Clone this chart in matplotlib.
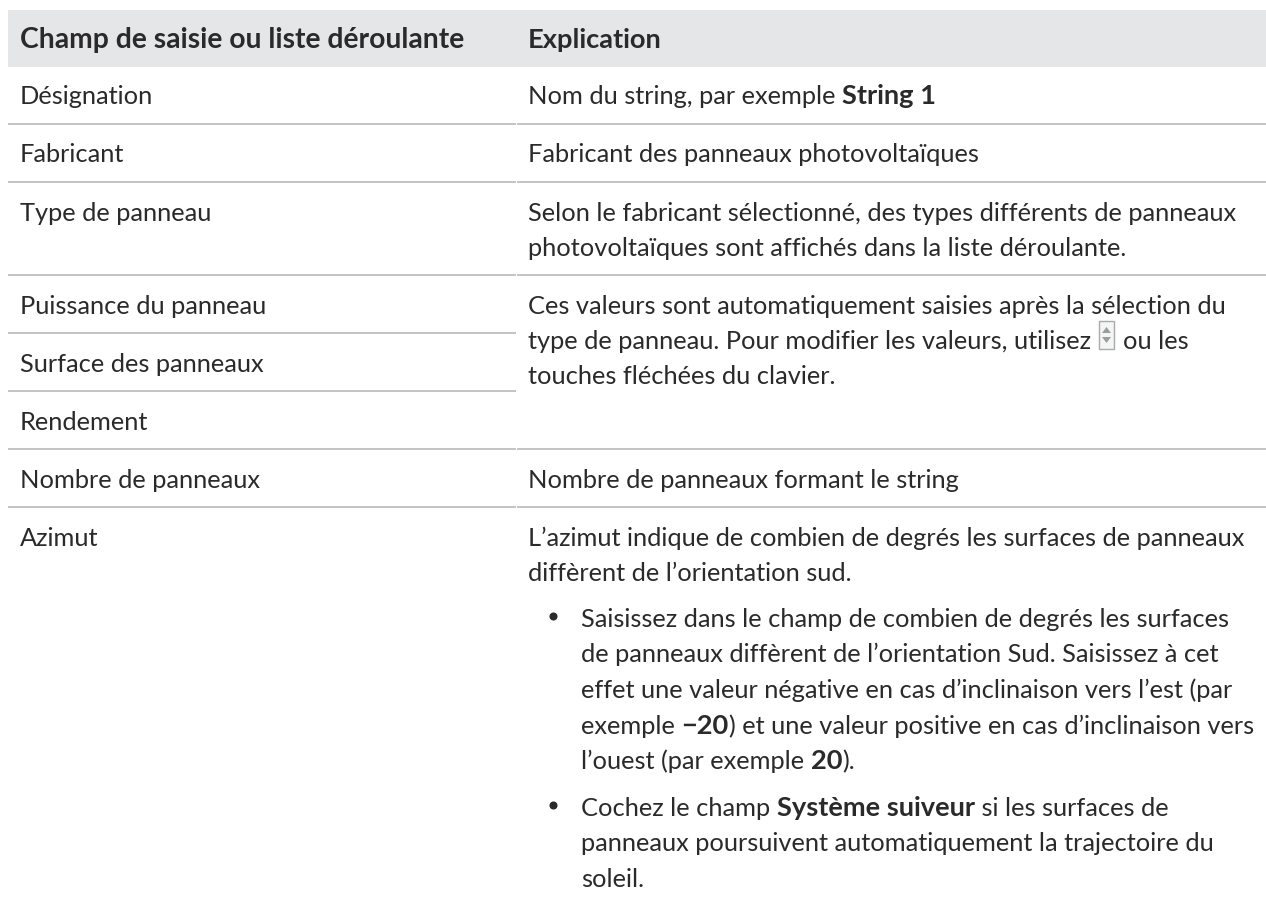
import matplotlib
matplotlib.use('Agg')
from matplotlib import pyplot as plt
from matplotlib.patches import Rectangle

W, H = 1266, 898
FONT = 'Lato'
SIZE = 18.3
BOLD = 19.6
INK = '#2b2a2b'
RULE = '#c2c3c5'

header = ['Champ de saisie ou liste déroulante', 'Explication']

# left column: text, baseline
fields = ['Désignation', 'Fabricant', 'Type de panneau', 'Puissance du panneau',
          'Surface des panneaux', 'Rendement', 'Nombre de panneaux', 'Azimut']
field_y = [104, 162, 221, 314, 372, 430, 488, 546]

rule_full = [124, 182, 275, 449, 507]
rule_left = [333, 391]

# right column: runs of (text, bold), baseline
expl = [
    ([('Nom du string, par exemple ', 0), ('String 1', 1)], 104),
    ([('Fabricant des panneaux photovoltaïques', 0)], 162),
    ([('Selon le fabricant sélectionné, des types différents de panneaux', 0)], 221),
    ([('photovoltaïques sont affichés dans la liste déroulante.', 0)], 256),
    ([('Ces valeurs sont automatiquement saisies après la sélection du', 0)], 314),
    ([('type de panneau. Pour modifier les valeurs, utilisez', 0)], 349),
    ([('touches fléchées du clavier.', 0)], 384),
    ([('Nombre de panneaux formant le string', 0)], 488),
    ([('L’azimut indique de combien de degrés les surfaces de panneaux', 0)], 546),
    ([('diffèrent de l’orientation sud.', 0)], 581),
]
after_icon = 'ou les'

bullets = [
    ([('Saisissez dans le champ de combien de degrés les surfaces', 0)], 627),
    ([('de panneaux diffèrent de l’orientation Sud. Saisissez à cet', 0)], 662),
    ([('effet une valeur négative en cas d’inclinaison vers l’est (par', 0)], 698),
    ([('exemple ', 0), ('−20', 1), (') et une valeur positive en cas d’inclinaison vers', 0)], 734),
    ([('l’ouest (par exemple ', 0), ('20', 1), (').', 0)], 769),
    ([('Cochez le champ ', 0), ('Système suiveur', 1), (' si les surfaces de', 0)], 816),
    ([('panneaux poursuivent automatiquement la trajectoire du', 0)], 851),
    ([('soleil.', 0)], 887),
]
bullet_y = [616, 805]

fig = plt.figure(figsize=(W / 100, H / 100), dpi=100, facecolor='white')
ax = fig.add_axes([0, 0, 1, 1])
ax.set_xlim(0, W)
ax.set_ylim(H, 0)
ax.axis('off')
rend = fig.canvas.get_renderer()


def advance(s, bold):
    # bars at both ends so that spaces at the ends are counted
    kw = dict(family=FONT, fontsize=BOLD if bold else SIZE, weight='bold' if bold else 'normal')
    a = ax.text(0, 0, '|' + s + '|', **kw)
    b = ax.text(0, 0, '||', **kw)
    w = a.get_window_extent(rend).width - b.get_window_extent(rend).width
    a.remove()
    b.remove()
    return w


def runs(x, y, parts):
    for s, bold in parts:
        ax.text(x, y, s, family=FONT, fontsize=BOLD if bold else SIZE, color=INK,
                weight='bold' if bold else 'normal')
        x += advance(s, bold)
    return x


def spinner(x, y):
    # small up/down control inside the text line, y is its bottom
    ax.add_patch(Rectangle((x, y - 28), 15, 28, fc='#f4f5f5', ec='#a9abab', lw=1))
    ax.fill([x + 3, x + 12, x + 7.5], [y - 16, y - 16, y - 22], color='#9c9e9e', lw=0)
    ax.fill([x + 3, x + 12, x + 7.5], [y - 12, y - 12, y - 6], color='#9c9e9e', lw=0)


ax.add_patch(Rectangle((8, 10), W - 8, 57, fc='#e5e6e8', ec='none'))
ax.text(20, 48, header[0], family=FONT, fontsize=20.3, weight='bold', color=INK)
ax.text(528, 48, header[1], family=FONT, fontsize=BOLD, weight='bold', color=INK)

for y in rule_full:
    ax.plot([8, 515.5], [y, y], color=RULE, lw=1.4, solid_capstyle='butt')
    ax.plot([516.5, W], [y, y], color=RULE, lw=1.4, solid_capstyle='butt')
for y in rule_left:
    ax.plot([8, 515.5], [y, y], color=RULE, lw=1.4, solid_capstyle='butt')

for s, y in zip(fields, field_y):
    ax.text(20, y, s, family=FONT, fontsize=SIZE, color=INK)

for parts, y in expl:
    end = runs(528, y, parts)
    if parts[0][0].startswith('type de'):
        spinner(end + 8, y)
        ax.text(end + 32, y, after_icon, family=FONT, fontsize=SIZE, color=INK)

for parts, y in bullets:
    runs(581, y, parts)
for y in bullet_y:
    ax.plot([553], [y], 'o', color=INK, ms=4.8)

fig.savefig('out.png', dpi=100)
